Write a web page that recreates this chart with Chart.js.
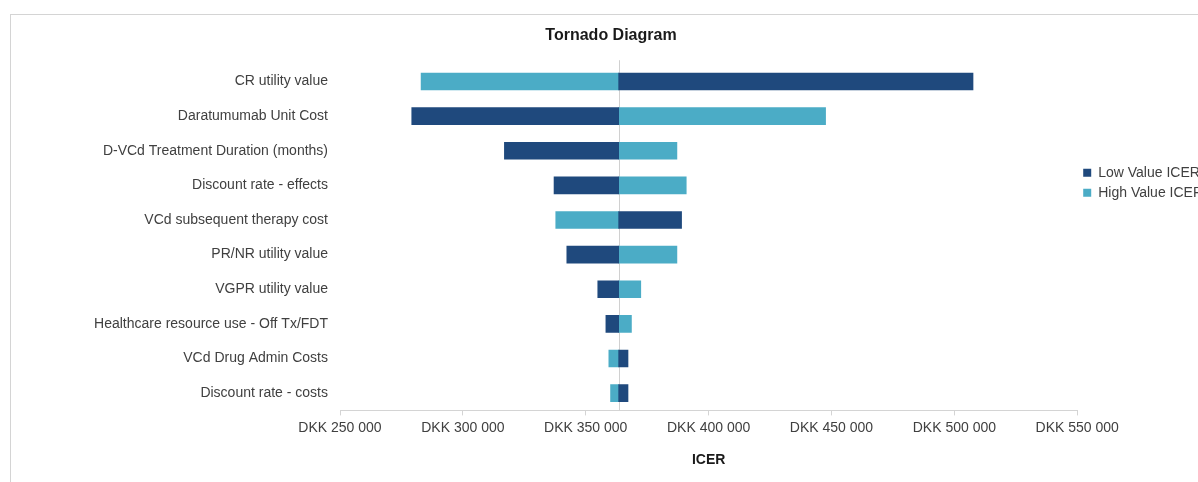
<!DOCTYPE html>
<html>
<head>
<meta charset="utf-8">
<script src="https://cdn.jsdelivr.net/npm/chart.js@4.4.1/dist/chart.umd.min.js"></script>
<style>
  html, body { margin: 0; padding: 0; background: #fff; overflow: hidden; }
  body { width: 1198px; height: 482px; position: relative; }
  #frame { position: absolute; left: 10px; top: 14px; width: 1220px; height: 500px;
           border: 1px solid #d4d4d4; box-shadow: 1px 1px 1px #eee; }
  #wrap { position: absolute; left: 0; top: 0; width: 1230px; height: 482px; }
</style>
</head>
<body>
<div id="frame"></div>
<div id="wrap"><canvas id="tornado"></canvas></div>
<script>
// parameters, top to bottom
const parameters = [
    'CR utility value',
    'Daratumumab Unit Cost',
    'D-VCd Treatment Duration (months)',
    'Discount rate - effects',
    'VCd subsequent therapy cost',
    'PR/NR utility value',
    'VGPR utility value',
    'Healthcare resource use - Off Tx/FDT',
    'VCd Drug Admin Costs',
    'Discount rate - costs'
];
// base case ICER (where the bars meet)
const baseIcer = 363400;
// ICER with parameter at low / high value
const lowValueIcer  = [507600, 279200, 316900, 337100, 389000, 342300, 354900, 358200, 367200, 367200];
const highValueIcer = [283000, 447600, 387100, 390900, 337800, 387100, 372400, 368600, 359400, 360100];
// x axis ticks
const tickMin = 250000;
const tickMax = 550000;
const tickStep = 50000;

const dkk = v => 'DKK ' + String(v).replace(/\B(?=(\d{3})+(?!\d))/g, ' ');

Chart.defaults.font.family = "'Liberation Sans', Arial, sans-serif";
Chart.defaults.font.size = 14;
Chart.defaults.color = '#404040';

// thin grey line at the base case
const baseLine = {
    id: 'baseLine',
    beforeDatasetsDraw(chart) {
        const { ctx, chartArea, scales } = chart;
        const x = Math.round(scales.x.getPixelForValue(baseIcer)) + 0.5;
        ctx.save();
        ctx.strokeStyle = '#d0d0d0';
        ctx.lineWidth = 1;
        ctx.beginPath();
        ctx.moveTo(x, chartArea.top - 4);
        ctx.lineTo(x, chartArea.bottom);
        ctx.stroke();
        ctx.restore();
    }
};

const ctx = document.getElementById('tornado').getContext('2d');
new Chart(ctx, {
    type: 'bar',
    data: {
        labels: parameters,
        datasets: [
            {
                label: 'Low Value ICER',
                data: lowValueIcer.map(v => [baseIcer, v]),
                backgroundColor: '#1f497d',
                borderSkipped: false,
                barThickness: 17,
                grouped: false
            },
            {
                label: 'High Value ICER',
                data: highValueIcer.map(v => [baseIcer, v]),
                backgroundColor: '#4bacc6',
                borderSkipped: false,
                barThickness: 17,
                grouped: false
            }
        ]
    },
    options: {
        indexAxis: 'y',
        responsive: true,
        maintainAspectRatio: false,
        animation: false,
        layout: { padding: { left: 9, right: 17, top: 14, bottom: 9 } },
        scales: {
            x: {
                min: tickMin,
                max: tickMax,
                ticks: {
                    stepSize: tickStep,
                    padding: 4,
                    color: '#404040',
                    callback: v => dkk(v)
                },
                grid: {
                    drawOnChartArea: false,
                    drawTicks: true,
                    tickLength: 5,
                    color: '#d4d4d4'
                },
                border: { display: true, color: '#d4d4d4' },
                title: {
                    display: true,
                    text: 'ICER',
                    color: '#1a1a1a',
                    font: { weight: 'bold', size: 14 },
                    padding: { top: 12, bottom: 4 }
                }
            },
            y: {
                grid: { display: false, drawTicks: false },
                border: { display: false },
                ticks: { padding: 12, color: '#404040' },
                afterFit: scale => { scale.width = 331; }
            }
        },
        plugins: {
            title: {
                display: true,
                text: 'Tornado Diagram',
                color: '#1a1a1a',
                font: { weight: 'bold', size: 16 },
                padding: { top: 12, bottom: 19 }
            },
            legend: {
                position: 'right',
                align: 'start',
                title: { display: true, text: ' ', padding: { top: 129, bottom: 0 } },
                labels: {
                    boxWidth: 8,
                    boxHeight: 8,
                    padding: 6,
                    color: '#404040'
                }
            },
            tooltip: { enabled: false }
        }
    },
    plugins: [baseLine]
});
</script>
</body>
</html>
